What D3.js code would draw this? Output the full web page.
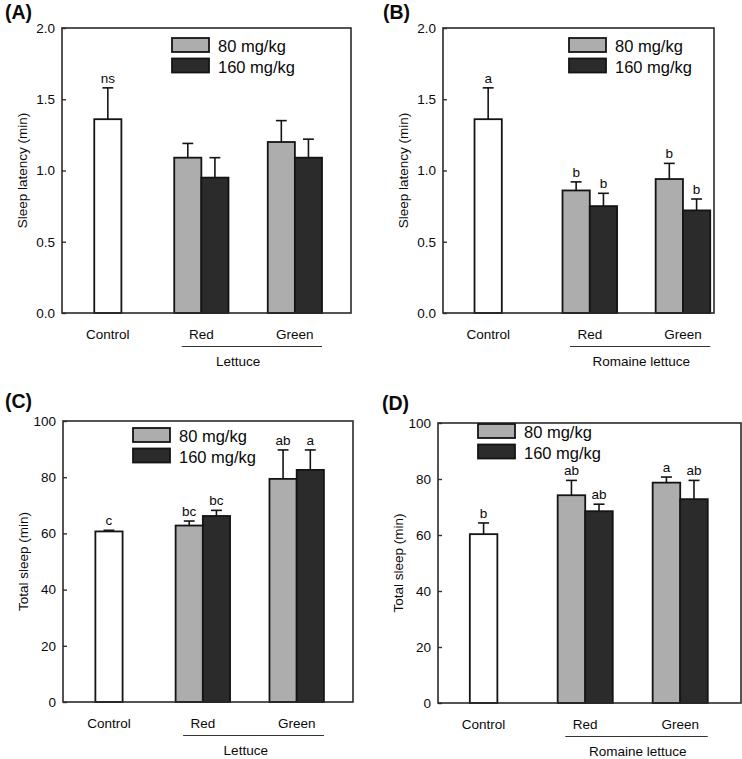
<!DOCTYPE html>
<html>
<head>
<meta charset="utf-8">
<script src="https://cdn.jsdelivr.net/npm/d3@7"></script>
<style>
  html, body { margin: 0; padding: 0; background: #fff; }
  svg { display: block; font-family: "Liberation Sans", Arial, sans-serif; }
</style>
</head>
<body>
<svg id="chart" width="742" height="759"></svg>
<script>
// ---------------- DATA ----------------
const categories = ["Control", "Red", "Green"];
const doses = ["80 mg/kg", "160 mg/kg"];
// bar order: Control, Red 80, Red 160, Green 80, Green 160
const barCategory = ["Control", "Red", "Red", "Green", "Green"];
const barDose = ["control", "80 mg/kg", "160 mg/kg", "80 mg/kg", "160 mg/kg"];

const latencyTicks = [0, 0.5, 1.0, 1.5, 2.0];
const sleepTicks = [0, 20, 40, 60, 80, 100];

// (A) Lettuce - sleep latency
const aMeans = [1.36, 1.09, 0.95, 1.20, 1.09];
const aErrs = [0.22, 0.10, 0.14, 0.15, 0.13];
const aLetters = ["ns", "", "", "", ""];
// (B) Romaine lettuce - sleep latency
const bMeans = [1.36, 0.86, 0.75, 0.94, 0.72];
const bErrs = [0.22, 0.06, 0.09, 0.11, 0.08];
const bLetters = ["a", "b", "b", "b", "b"];
// (C) Lettuce - total sleep
const cMeans = [60.7, 62.8, 66.2, 79.4, 82.6];
const cErrs = [0.4, 1.6, 2.0, 10.3, 7.1];
const cLetters = ["c", "bc", "bc", "ab", "a"];
// (D) Romaine lettuce - total sleep
const dMeans = [60.3, 74.2, 68.5, 78.7, 72.8];
const dErrs = [4.0, 5.3, 2.5, 2.0, 6.7];
const dLetters = ["b", "ab", "ab", "a", "ab"];

// ---------------- LAYOUT ----------------
const colors = { "control": "#ffffff", "80 mg/kg": "#adadad", "160 mg/kg": "#2b2b2b" };
const panels = [
  { tag: "(A)", tagX: 5, tagY: 19, box: [62, 28, 351, 313], xDom: [-0.49, 2.6], pos: [0, 1, 2],
    yMax: 2.0, ticks: latencyTicks, fmt: d3.format(".1f"), ytitle: "Sleep latency (min)",
    group: "Lettuce", groupDx: -10, legX: 110, legY: 10, means: aMeans, errs: aErrs, letters: aLetters },
  { tag: "(B)", tagX: 383, tagY: 19, box: [443, 28, 714, 313], xDom: [-0.48, 2.40], pos: [0, 1.08, 2.07],
    yMax: 2.0, ticks: latencyTicks, fmt: d3.format(".1f"), ytitle: "Sleep latency (min)",
    group: "Romaine lettuce", groupDx: 5, legX: 126, legY: 10, means: bMeans, errs: bErrs, letters: bLetters },
  { tag: "(C)", tagX: 5, tagY: 408, box: [63, 421, 353, 702], xDom: [-0.49, 2.6], pos: [0, 1, 2],
    yMax: 100, ticks: sleepTicks, fmt: d3.format("d"), ytitle: "Total sleep (min)",
    group: "Lettuce", groupDx: -4, legX: 70, legY: 7, means: cMeans, errs: cErrs, letters: cLetters },
  { tag: "(D)", tagX: 382, tagY: 410, box: [438, 423, 741, 703], xDom: [-0.48, 2.71], pos: [0, 1.07, 2.07],
    yMax: 100, ticks: sleepTicks, fmt: d3.format("d"), ytitle: "Total sleep (min)",
    group: "Romaine lettuce", groupDx: 5, legX: 40, legY: 1, means: dMeans, errs: dErrs, letters: dLetters }
];

const svg = d3.select("#chart");
const BW = 0.29; // bar width in category units
const ink = "#141414";
const txt = "#0a0a0a";

panels.forEach(p => {
  const [L, T, R, B] = p.box;
  const g = svg.append("g");
  const x = d3.scaleLinear().domain(p.xDom).range([L, R]);
  const y = d3.scaleLinear().domain([0, p.yMax]).range([B, T]);
  const catPos = c => p.pos[categories.indexOf(c)];

  // panel tag
  svg.append("text").attr("x", p.tagX).attr("y", p.tagY)
    .attr("font-size", 19.5).attr("font-weight", "bold").attr("fill", txt).text(p.tag);

  // y axis ticks (inward) and labels
  const ax = g.append("g").attr("transform", `translate(${L},0)`)
    .call(d3.axisLeft(y).tickValues(p.ticks).tickFormat(p.fmt).tickSizeInner(-4).tickSizeOuter(0).tickPadding(7));
  ax.select(".domain").remove();
  ax.selectAll(".tick line").attr("stroke", "#333").attr("stroke-width", 1.4);
  ax.selectAll(".tick text").attr("font-size", 13.5).attr("fill", txt)
    .attr("font-family", "Liberation Sans, Arial, sans-serif");

  // y title
  g.append("text")
    .attr("transform", `translate(${L - 40},${(T + B) / 2}) rotate(-90)`)
    .attr("text-anchor", "middle").attr("dy", "0.35em")
    .attr("font-size", 13.5).attr("fill", txt).text(p.ytitle);

  // bars
  const bars = p.means.map((m, i) => {
    const c = barCategory[i], dose = barDose[i];
    const cx = catPos(c);
    let x0;
    if (dose === "control") x0 = cx - BW / 2;
    else if (dose === "80 mg/kg") x0 = cx - BW;
    else x0 = cx;
    return { m, e: p.errs[i], letter: p.letters[i], dose, x0 };
  });

  g.selectAll("rect.bar").data(bars).enter().append("rect")
    .attr("x", d => x(d.x0)).attr("width", d => x(d.x0 + BW) - x(d.x0))
    .attr("y", d => y(d.m)).attr("height", d => y(0) - y(d.m))
    .attr("fill", d => colors[d.dose]).attr("stroke", ink).attr("stroke-width", 1.8);

  // error bars
  bars.forEach(d => {
    const cx = x(d.x0 + BW / 2);
    const capW = (x(d.x0 + BW) - x(d.x0)) * 0.2;
    g.append("line").attr("x1", cx).attr("x2", cx).attr("y1", y(d.m)).attr("y2", y(d.m + d.e))
      .attr("stroke", ink).attr("stroke-width", 1.6);
    g.append("line").attr("x1", cx - capW).attr("x2", cx + capW)
      .attr("y1", y(d.m + d.e)).attr("y2", y(d.m + d.e))
      .attr("stroke", ink).attr("stroke-width", 1.6);
    if (d.letter) {
      g.append("text").attr("x", cx).attr("y", y(d.m + d.e) - 5)
        .attr("text-anchor", "middle").attr("font-size", 13.5).attr("fill", txt).text(d.letter);
    }
  });

  // frame
  g.append("rect").attr("x", L).attr("y", T).attr("width", R - L).attr("height", B - T)
    .attr("fill", "none").attr("stroke", "#2a2a2a").attr("stroke-width", 1.6);

  // category labels
  categories.forEach(c => {
    g.append("text").attr("x", x(catPos(c))).attr("y", B + 26)
      .attr("text-anchor", "middle").attr("font-size", 13.5).attr("fill", txt).text(c);
  });
  // group underline and label
  const red = catPos("Red"), green = catPos("Green");
  g.append("line").attr("x1", x(red - 0.21)).attr("x2", x(green + BW))
    .attr("y1", B + 33.5).attr("y2", B + 33.5).attr("stroke", "#333").attr("stroke-width", 1.1);
  g.append("text").attr("x", x((red + green) / 2) + p.groupDx).attr("y", B + 53)
    .attr("text-anchor", "middle").attr("font-size", 13.5).attr("fill", txt).text(p.group);

  // legend
  doses.forEach((dose, i) => {
    const ly = T + p.legY + i * 20.5;
    g.append("rect").attr("x", L + p.legX).attr("y", ly).attr("width", 37).attr("height", 14)
      .attr("fill", colors[dose]).attr("stroke", ink).attr("stroke-width", 1.8);
    g.append("text").attr("x", L + p.legX + 46).attr("y", ly + 14)
      .attr("font-size", 16.5).attr("fill", txt).text(dose);
  });
});
</script>
</body>
</html>
